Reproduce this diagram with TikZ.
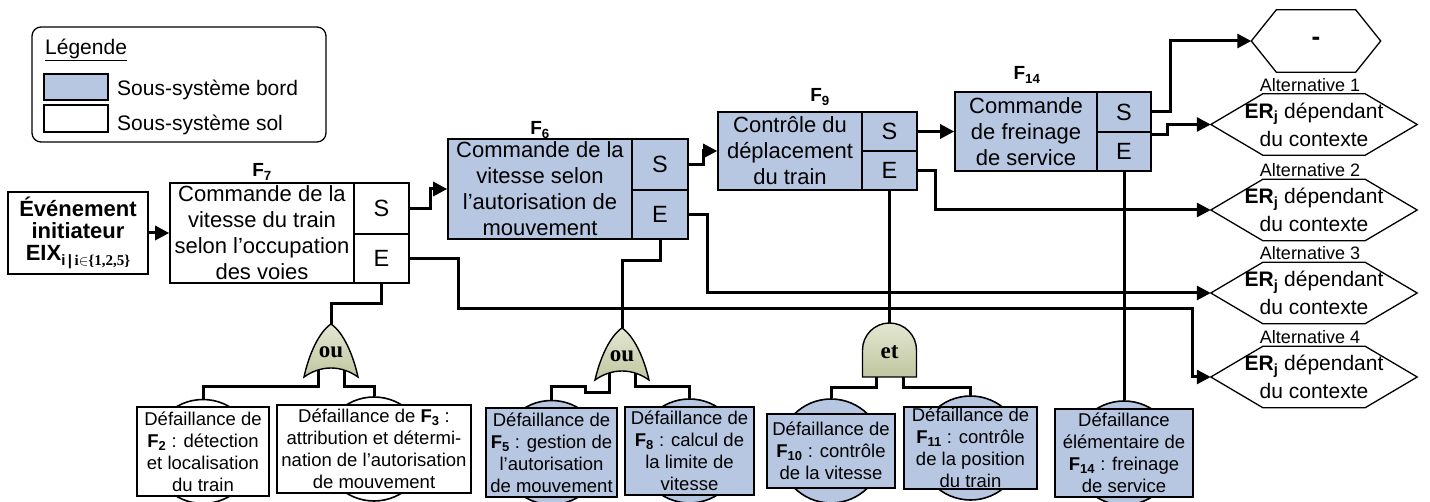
\documentclass[tikz,border=0pt]{standalone}
\usepackage{fontspec}
\setmainfont{Liberation Sans}
\newfontfamily\serif{Liberation Serif}
\usetikzlibrary{arrows.meta,calc}
\definecolor{bleu}{RGB}{183,199,226}
\definecolor{gtop}{RGB}{228,231,210}
\definecolor{gbot}{RGB}{192,198,160}
\pgfdeclarelayer{back}
\pgfdeclarelayer{bg}
\pgfsetlayers{back,bg,main}
\newcommand\hexa[2]{\draw[hexl] (#1.west) -- ([xshift=#2]#1.north west) -- ([xshift=-#2]#1.north east) -- (#1.east) -- ([xshift=-#2]#1.south east) -- ([xshift=#2]#1.south west) -- cycle;}
\newcommand\fbig{\fontsize{22}{26}\selectfont}
\newcommand\fport{\fontsize{23.5}{26}\selectfont}
\newcommand\fev{\fontsize{18.5}{22}\selectfont}
\newcommand\fhex{\fontsize{21}{28}\selectfont}
\newcommand\Fb[1]{\textbf{F\textsubscript{#1}}}
\tikzset{
  conn/.style={line width=3pt},
  arr/.style={-{Triangle[length=14pt,width=14pt]}},
  blk/.style={draw, line width=1.6pt, inner sep=0pt, align=center},
  fun/.style={blk, fill=bleu, font=\fbig},
  port/.style={blk, font=\fport},
  flab/.style={inner sep=0pt, font=\fontsize{19}{19}\selectfont\bfseries},
  evbox/.style={blk, font=\fev},
  evcirc/.style={draw, line width=1.6pt, circle, minimum size=104pt, inner sep=0pt},
  hexn/.style={inner sep=0pt, align=center, font=\fhex},
  hexl/.style={line width=1.3pt},
  altlab/.style={inner sep=0pt, font=\fontsize{18}{18}\selectfont},
  gatefill/.style={draw, line width=1.4pt, top color=gtop, bottom color=gbot},
  gatelbl/.style={inner sep=0pt, font=\serif\bfseries\fontsize{23}{23}\selectfont},
}
\begin{document}
\begin{tikzpicture}[x=1pt,y=-1pt]
\useasboundingbox (0,0) rectangle (1430,502);
\begin{pgfonlayer}{back}
\fill[white] (0,0) rectangle (1430,502);
\end{pgfonlayer}

% Legend
\node[draw, line width=1.3pt, rounded corners=9pt, minimum width=294pt, minimum height=115pt] (leg) at (179,84.5) {};
\node[anchor=west, inner sep=0pt, font=\fontsize{21}{21}\selectfont] (legt) at (45,50) {\underline{Légende}};
\node[blk, line width=1.3pt, fill=bleu, minimum width=64pt, minimum height=26pt] (sw1) at (76,87) {};
\node[blk, line width=1.3pt, fill=white, minimum width=64pt, minimum height=27pt] (sw2) at (76,118.5) {};
\node[anchor=west, inner sep=0pt, font=\fontsize{21}{21}\selectfont] (lt1) at (117,90) {Sous-système bord};
\node[anchor=west, inner sep=0pt, font=\fontsize{21}{21}\selectfont] (lt2) at (117,125) {Sous-système sol};

% Initiating event
\node[blk, fill=white, minimum width=140pt, minimum height=82pt, font=\fontsize{22}{22}\selectfont\bfseries] (eix) at (78,233)
  {Événement\\initiateur\\EIX\raisebox{-5pt}{\fontsize{15}{15}\selectfont i\,|\,\serif i\ensuremath{\in}\{1,2,5\}}};

% F7
\node[blk, fill=white, font=\fbig, minimum width=184pt, minimum height=100pt] (f7) at (262,233)
  {Commande de la\\vitesse du train\\selon l’occupation\\des voies};
\node[port, fill=white, minimum width=55pt, minimum height=51pt] (f7s) at (381.5,208.5) {S};
\node[port, fill=white, minimum width=55pt, minimum height=49pt] (f7e) at (381.5,258.5) {E};
\node[flab] (l7) at (262,172) {F\textsubscript{7}};

% F6
\node[fun, minimum width=184pt, minimum height=100pt] (f6) at (540,189)
  {Commande de la\\vitesse selon\\l’autorisation de\\mouvement};
\node[port, fill=bleu, minimum width=56pt, minimum height=51pt] (f6s) at (660,164.5) {S};
\node[port, fill=bleu, minimum width=56pt, minimum height=49pt] (f6e) at (660,214.5) {E};
\node[flab] (l6) at (540,130) {F\textsubscript{6}};

% F9
\node[fun, minimum width=144pt, minimum height=78pt] (f9) at (790,151)
  {Contrôle du\\déplacement\\du train};
\node[port, fill=bleu, minimum width=55pt, minimum height=39pt] (f9s) at (889.5,131.5) {S};
\node[port, fill=bleu, minimum width=55pt, minimum height=39pt] (f9e) at (889.5,170.5) {E};
\node[flab] (l9) at (820,97) {F\textsubscript{9}};

% F14
\node[fun, minimum width=142pt, minimum height=79pt] (f14) at (1026,131.5)
  {Commande\\de freinage\\de service};
\node[port, fill=bleu, minimum width=54pt, minimum height=40pt] (f14s) at (1124,112) {S};
\node[port, fill=bleu, minimum width=54pt, minimum height=39pt] (f14e) at (1124,151.5) {E};
\node[flab] (l14) at (1027,75) {F\textsubscript{14}};

% Hexagons
\node[hexn, minimum width=129pt, minimum height=62pt, font=\fontsize{26}{26}\selectfont\bfseries] (hex0) at (1316,41) {-};
\hexa{hex0}{25pt}
\foreach \n/\y/\ly in {1/124.5/85, 2/210/170, 3/293/253, 4/377/337}{
  \node[hexn, minimum width=206pt, minimum height=61pt] (alt\n) at (1314,\y) {\textbf{ER\textsubscript{j}} dépendant\\du contexte};
  \hexa{alt\n}{52pt}
  \node[altlab] (altl\n) at (1310,\ly) {Alternative \n};
}

% Gates
\begin{scope}[shift={(331,324)}]
  \path[gatefill] (0,0) .. controls (12,8) and (22,30) .. (27,53) .. controls (10,41) and (-10,41) .. (-27,53) .. controls (-22,30) and (-12,8) .. cycle;
  \node[gatelbl] (g1) at (0,28) {ou};
  \coordinate (g1top) at (0,0);
  \coordinate (g1l) at (-13,45);
  \coordinate (g1r) at (13,45);
\end{scope}
\begin{scope}[shift={(622,328)}]
  \path[gatefill] (0,0) .. controls (12,8) and (22,30) .. (27,52) .. controls (10,40) and (-10,40) .. (-27,52) .. controls (-22,30) and (-12,8) .. cycle;
  \node[gatelbl] (g2) at (0,28) {ou};
  \coordinate (g2top) at (0,0);
  \coordinate (g2l) at (-13,44);
  \coordinate (g2r) at (13,44);
\end{scope}
\begin{scope}[shift={(889.5,323)}]
  \path[gatefill] (-27,54) -- (-27,27) .. controls (-27,12.1) and (-14.9,0) .. (0,0) .. controls (14.9,0) and (27,12.1) .. (27,27) -- (27,54) -- cycle;
  \node[gatelbl] (g3) at (0,29) {et};
  \coordinate (g3top) at (0,0);
  \coordinate (g3l) at (-13.5,50);
  \coordinate (g3r) at (13.5,50);
\end{scope}

% Basic events
\node[evcirc, fill=white] (c2) at (203,451.5) {};
\node[evbox, fill=white, minimum width=132pt, minimum height=89pt] (e2) at (203,451.5)
  {Défaillance de\\\Fb{2} : détection\\et localisation\\du train};
\node[evcirc, fill=white] (c3) at (374,449) {};
\node[evbox, fill=white, minimum width=194pt, minimum height=88pt] (e3) at (374,449)
  {Défaillance de \Fb{3} :\\attribution et détermi-\\nation de l’autorisation\\de mouvement};
\node[evcirc, fill=bleu] (c5) at (551.5,452.5) {};
\node[evbox, fill=bleu, minimum width=131pt, minimum height=89pt] (e5) at (551.5,452.5)
  {Défaillance de\\\Fb{5} : gestion de\\l’autorisation\\de mouvement};
\node[evcirc, fill=bleu] (c8) at (689.5,451) {};
\node[evbox, fill=bleu, minimum width=129pt, minimum height=88pt] (e8) at (689.5,451)
  {Défaillance de\\\Fb{8} : calcul de\\la limite de\\vitesse};
\node[evcirc, fill=bleu] (c10) at (831,451) {};
\node[evbox, fill=bleu, minimum width=128pt, minimum height=74pt] (e10) at (831,451)
  {Défaillance de\\\Fb{10} : contrôle\\de la vitesse};
\node[evcirc, fill=bleu] (c11) at (970.5,448) {};
\node[evbox, fill=bleu, minimum width=133pt, minimum height=82pt] (e11) at (970.5,448)
  {Défaillance de\\\Fb{11} : contrôle\\de la position\\du train};
\node[evcirc, fill=bleu] (c14) at (1124,453) {};
\node[evbox, fill=bleu, minimum width=138pt, minimum height=88pt] (e14) at (1124,453)
  {Défaillance\\élémentaire de\\\Fb{14} : freinage\\de service};

% Connectors
\begin{pgfonlayer}{bg}
\draw[conn, arr] (eix.east) -- (f7.west);
\draw[conn, arr] (f7s.east) -- ++(21,0) |- (f6.west);
\draw[conn, arr] (f6s.east) -- ++(15,0) |- (f9.west);
\draw[conn, arr] (f9s.east) -- (f14.west);
\draw[conn, arr] (f14s.east) -- ++(19,0) |- (hex0.west);
\draw[conn, arr] ([yshift=-3pt]f14e.north east) -- ++(16,0) |- (alt1.west);
\draw[conn, arr] (f9e.east) -- ++(18,0) |- (alt2.west);
\draw[conn, arr] (f6e.east) -- ++(19,0) |- (alt3.west);
\coordinate (k1) at (458,309);
\coordinate (k2) at (1192,309);
\draw[conn, arr] (f7e.east) -| (k1) -- (k2) |- (alt4.west);
\draw[conn] (f7e.south) -- ++(0,20) -| (g1top);
\draw[conn] (f6e.south) -- ++(0,21) -| (g2top);
\draw[conn] (f9e.south) -- (g3top);
\draw[conn] (f14e.south) -- (c14.north);
\draw[conn] (g1l) -- ++(0,18) -| (c2.north);
\draw[conn] (g1r) -- ++(0,18) -| (c3.north);
\draw[conn] (g2l) -- ++(0,21) -- ++(-24,0) -- ++(0,-6) -| (c5.north);
\draw[conn] (g2r) -- ++(0,15) -| (c8.north);
\draw[conn] (g3l) -- ++(0,15) -| (c10.north);
\draw[conn] (g3r) -- ++(0,15) -| (c11.north);
\end{pgfonlayer}
\end{tikzpicture}
\end{document}
